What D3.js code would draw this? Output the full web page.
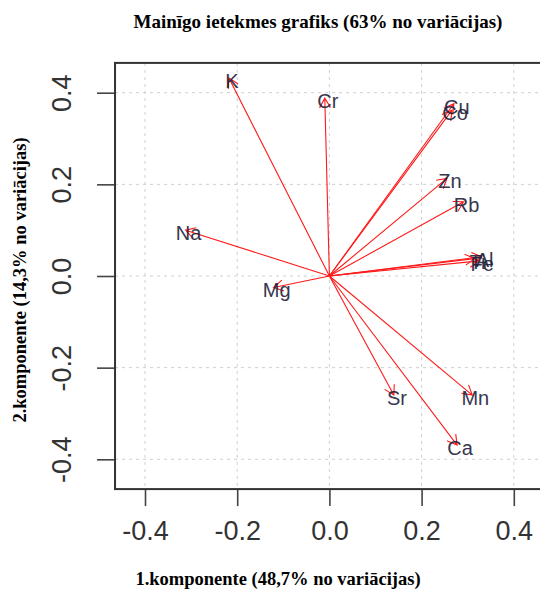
<!DOCTYPE html>
<html>
<head>
<meta charset="utf-8">
<script src="https://cdn.jsdelivr.net/npm/d3@7"></script>
<style>
  body { margin: 0; background: #fff; }
</style>
</head>
<body>
<div id="container"></div>
<script>
/* CONSTANTS AND GLOBALS */
const width = 540,
  height = 590;

// loadings (1.komponente, 2.komponente)
const vars = ["K", "Cr", "Cu", "Co", "Zn", "Rb", "Na", "Al", "Fe", "Ti", "Mg", "Sr", "Mn", "Ca"];
const pc1 = [-0.218, -0.010, 0.270, 0.266, 0.255, 0.291, -0.312, 0.330, 0.325, 0.315, -0.121, 0.140, 0.310, 0.277];
const pc2 = [0.432, 0.388, 0.376, 0.362, 0.213, 0.162, 0.100, 0.042, 0.033, 0.038, -0.025, -0.260, -0.260, -0.369];

const ticks = [-0.4, -0.2, 0.0, 0.2, 0.4];
const limits = [-0.465, 0.465];

const data = vars.map((v, i) => ({ name: v, x: pc1[i], y: pc2[i] }));

// SCALES
const xScale = d3.scaleLinear()
  .domain([-0.4, 0.4])
  .range([145, 513.8]);

const yScale = d3.scaleLinear()
  .domain([-0.4, 0.4])
  .range([459.3, 92.7]);

// CREATE SVG ELEMENT
const svg = d3.select("#container")
  .append("svg")
  .attr("width", width)
  .attr("height", height);

const x0 = xScale(limits[0]), x1 = xScale(limits[1]);
const y0 = yScale(limits[0]), y1 = yScale(limits[1]);

// GRID
svg.selectAll(".gx")
  .data(ticks)
  .join("line")
  .attr("class", "gx")
  .attr("x1", d => xScale(d)).attr("x2", d => xScale(d))
  .attr("y1", y1).attr("y2", y0)
  .attr("stroke", "#cfcfcf")
  .attr("stroke-dasharray", "3,4");

svg.selectAll(".gy")
  .data(ticks)
  .join("line")
  .attr("class", "gy")
  .attr("y1", d => yScale(d)).attr("y2", d => yScale(d))
  .attr("x1", x0).attr("x2", x1)
  .attr("stroke", "#cfcfcf")
  .attr("stroke-dasharray", "3,4");

// AXES
const xAxis = d3.axisBottom(xScale)
  .tickValues(ticks)
  .tickFormat(d3.format(".1f"))
  .tickSize(17)
  .tickPadding(10);

const yAxis = d3.axisLeft(yScale)
  .tickValues(ticks)
  .tickFormat(d3.format(".1f"))
  .tickSize(18)
  .tickPadding(10);

const gx = svg.append("g")
  .attr("transform", `translate(0,${y0})`)
  .call(xAxis);

const gy = svg.append("g")
  .attr("transform", `translate(${x0},0)`)
  .call(yAxis);

[gx, gy].forEach(g => {
  g.select(".domain").remove();
  g.selectAll(".tick line").attr("stroke", "#444").attr("stroke-width", 1.6);
  g.selectAll(".tick text")
    .attr("fill", "#333")
    .style("font-family", "Liberation Sans, Arial, sans-serif")
    .style("font-size", "27px")
    .text(d => d3.format(".1f")(d).replace("−", "-"));
});

gy.selectAll(".tick text")
  .attr("x", null).attr("dy", null)
  .attr("text-anchor", "middle")
  .attr("dominant-baseline", "central")
  .attr("transform", "translate(-53,0) rotate(-90)");

gx.selectAll(".tick text").attr("dy", "0.9em");

// BOX
svg.append("rect")
  .attr("x", x0).attr("y", y1)
  .attr("width", x1 - x0).attr("height", y0 - y1)
  .attr("fill", "none")
  .attr("stroke", "#333")
  .attr("stroke-width", 2);

// ARROWS
const ox = xScale(0), oy = yScale(0);
const head = 11, ang = Math.PI / 6;

const arrows = svg.append("g")
  .attr("stroke", "#ff1a1a")
  .attr("stroke-width", 1.1)
  .attr("fill", "none");

arrows.selectAll("path")
  .data(data)
  .join("path")
  .attr("d", d => {
    const tx = xScale(d.x), ty = yScale(d.y);
    const a = Math.atan2(ty - oy, tx - ox);
    const p = d3.path();
    p.moveTo(ox, oy);
    p.lineTo(tx, ty);
    p.moveTo(tx - head * Math.cos(a - ang), ty - head * Math.sin(a - ang));
    p.lineTo(tx, ty);
    p.lineTo(tx - head * Math.cos(a + ang), ty - head * Math.sin(a + ang));
    return p.toString();
  });

// LABELS
svg.selectAll(".lab")
  .data(data)
  .join("text")
  .attr("class", "lab")
  .attr("x", d => xScale(d.x) + 3)
  .attr("y", d => yScale(d.y) + 3)
  .attr("text-anchor", "middle")
  .attr("dominant-baseline", "central")
  .attr("fill", "#22223a")
  .attr("opacity", 0.9)
  .style("font-family", "Liberation Sans, Arial, sans-serif")
  .style("font-size", "20px")
  .text(d => d.name);

// TITLES
svg.append("text")
  .attr("x", 318).attr("y", 28)
  .attr("text-anchor", "middle")
  .style("font-family", "Liberation Serif, Times New Roman, serif")
  .style("font-weight", "bold")
  .style("font-size", "19px")
  .text("Mainīgo ietekmes grafiks (63% no variācijas)");

svg.append("text")
  .attr("x", 278).attr("y", 585)
  .attr("text-anchor", "middle")
  .style("font-family", "Liberation Serif, Times New Roman, serif")
  .style("font-weight", "bold")
  .style("font-size", "18.5px")
  .text("1.komponente (48,7% no variācijas)");

svg.append("text")
  .attr("transform", "translate(26,280) rotate(-90)")
  .attr("text-anchor", "middle")
  .style("font-family", "Liberation Serif, Times New Roman, serif")
  .style("font-weight", "bold")
  .style("font-size", "18.5px")
  .text("2.komponente (14,3% no variācijas)");
</script>
</body>
</html>
